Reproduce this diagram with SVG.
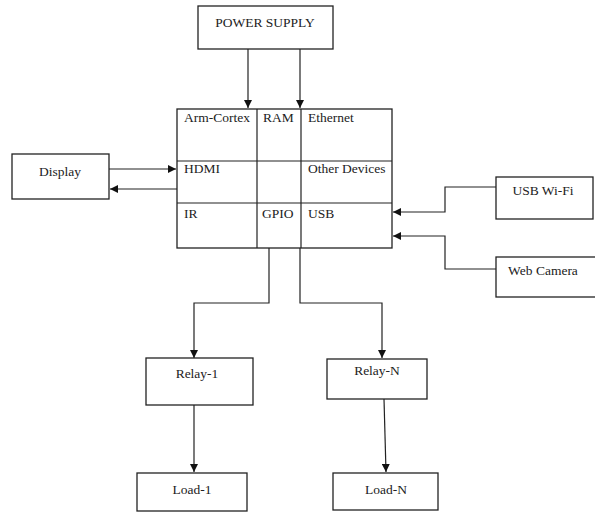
<svg xmlns="http://www.w3.org/2000/svg" width="595" height="514" viewBox="0 0 595 514">
<style>
.box{fill:#fff;stroke:#222;stroke-width:1.3}
.ln{fill:none;stroke:#222;stroke-width:1.2}
text{font-family:"Liberation Serif","Times New Roman",serif;font-size:13.5px;fill:#222}
.c{text-anchor:middle}
</style>
<defs>
<marker id="ah" viewBox="0 0 10 10" refX="10" refY="5" markerWidth="8" markerHeight="8" markerUnits="userSpaceOnUse" orient="auto">
<path d="M0,0 L10,5 L0,10 z" fill="#111"/>
</marker>
</defs>
<rect width="595" height="514" fill="#fff"/>
<g id="connectors">
<path class="ln" d="M248,49 V108" marker-end="url(#ah)"/>
<path class="ln" d="M300,49 V108" marker-end="url(#ah)"/>
<path class="ln" d="M109,169 H176" marker-end="url(#ah)"/>
<path class="ln" d="M177,189 H110" marker-end="url(#ah)"/>
<path class="ln" d="M496,187 H445 V212 H393" marker-end="url(#ah)"/>
<path class="ln" d="M496,269 H445 V236 H393" marker-end="url(#ah)"/>
<path class="ln" d="M269,248 V303 H194 V358" marker-end="url(#ah)"/>
<path class="ln" d="M300,248 V303 H382 V358" marker-end="url(#ah)"/>
<path class="ln" d="M194,405 V472" marker-end="url(#ah)"/>
<path class="ln" d="M384,399 L386,472" marker-end="url(#ah)"/>
</g>
<g id="power-supply">
<rect class="box" x="198" y="6" width="135" height="43"/>
<text class="c" x="265" y="27">POWER SUPPLY</text>
</g>
<g id="main-board">
<rect class="box" x="177" y="109" width="215" height="139"/>
<path class="ln" d="M177,161 H392 M177,203 H392 M257,109 V248 M301,109 V248"/>
<text x="184" y="122">Arm-Cortex</text>
<text x="263" y="122">RAM</text>
<text x="308" y="122">Ethernet</text>
<text x="184" y="173">HDMI</text>
<text x="308" y="173">Other Devices</text>
<text x="184" y="218">IR</text>
<text x="262" y="218">GPIO</text>
<text x="308" y="218">USB</text>
</g>
<g id="display">
<rect class="box" x="12" y="154" width="97" height="45"/>
<text class="c" x="60" y="176">Display</text>
</g>
<g id="usb-wifi">
<rect class="box" x="496" y="177" width="97" height="42"/>
<text class="c" x="543" y="195">USB Wi-Fi</text>
</g>
<g id="web-camera">
<rect class="box" x="496" y="257" width="100" height="40"/>
<text class="c" x="543" y="275">Web Camera</text>
</g>
<g id="relay-1">
<rect class="box" x="146" y="358" width="107" height="47"/>
<text class="c" x="197" y="378">Relay-1</text>
</g>
<g id="relay-n">
<rect class="box" x="327" y="359" width="100" height="40"/>
<text class="c" x="377" y="375">Relay-N</text>
</g>
<g id="load-1">
<rect class="box" x="137" y="473" width="110" height="38"/>
<text class="c" x="192" y="494">Load-1</text>
</g>
<g id="load-n">
<rect class="box" x="333" y="473" width="105" height="37"/>
<text class="c" x="386" y="494">Load-N</text>
</g>
</svg>
